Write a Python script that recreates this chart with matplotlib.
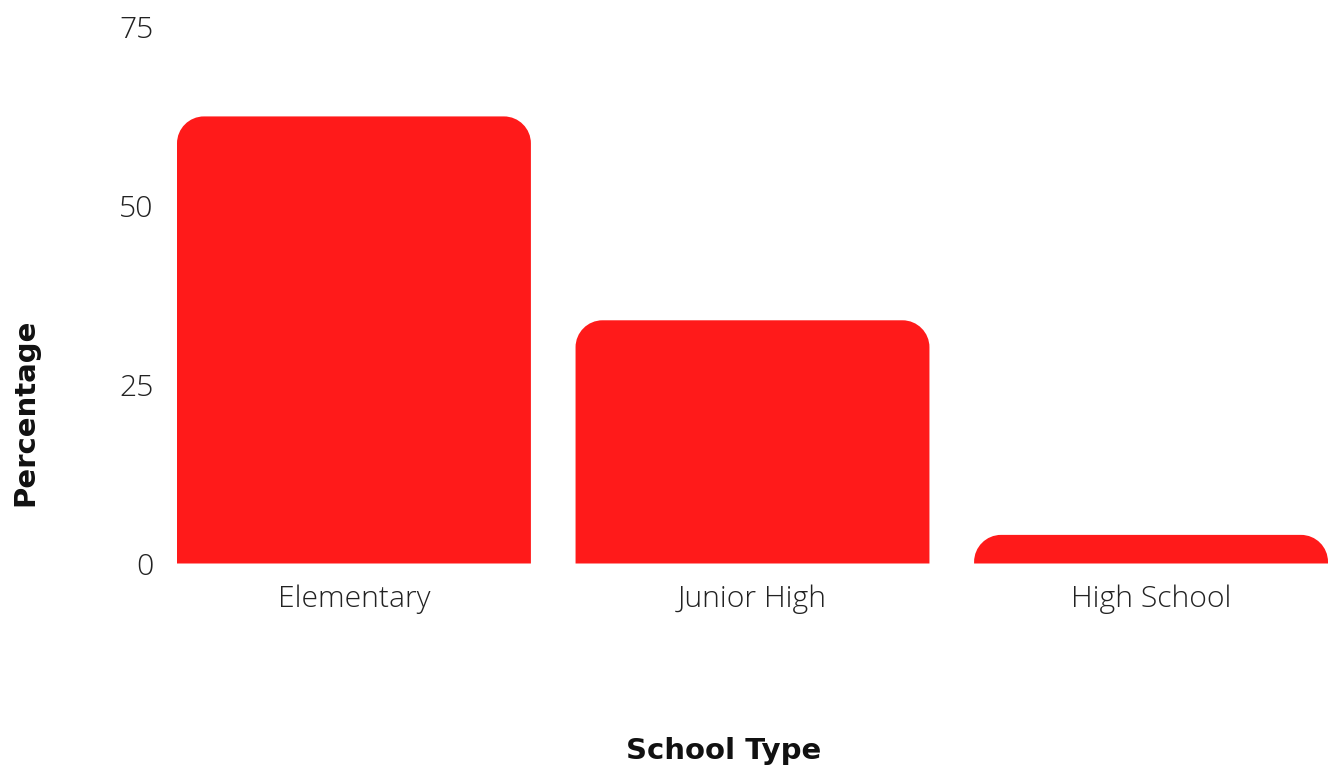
import matplotlib
matplotlib.use('Agg')
import matplotlib.pyplot as plt
from matplotlib.path import Path
from matplotlib.patches import PathPatch

# Datos
categorias = ['Elementary', 'Junior High', 'High School']
porcentajes = [62.5, 34, 4]
ticks_y = [0, 25, 50, 75]

COLOR_BARRA = '#ff1a1a'
W, H = 1328, 767
RADIO_PX = 27


def barra_redondeada(x0, ancho, alto, rx, ry):
    """Path de una barra con las esquinas superiores redondeadas."""
    ry = min(ry, alto)
    k = 0.5523
    x1 = x0 + ancho
    verts = [
        (x0, 0), (x0, alto - ry),
        (x0, alto - ry + k * ry), (x0 + rx - k * rx, alto), (x0 + rx, alto),
        (x1 - rx, alto),
        (x1 - rx + k * rx, alto), (x1, alto - ry + k * ry), (x1, alto - ry),
        (x1, 0), (x0, 0),
    ]
    codes = [Path.MOVETO, Path.LINETO,
             Path.CURVE4, Path.CURVE4, Path.CURVE4,
             Path.LINETO,
             Path.CURVE4, Path.CURVE4, Path.CURVE4,
             Path.LINETO, Path.CLOSEPOLY]
    return Path(verts, codes)


fig = plt.figure(figsize=(W / 100, H / 100), dpi=100)
izq, der = 177, 1328
arriba, abajo = 27, 563.5
ax = fig.add_axes([izq / W, (H - abajo) / H, (der - izq) / W, (abajo - arriba) / H])

ancho_barra = 0.888
xs = list(range(len(categorias)))
barras = ax.bar(xs, porcentajes, width=ancho_barra, color=COLOR_BARRA)
ax.set_xlim(-ancho_barra / 2, len(categorias) - 1 + ancho_barra / 2)
ax.set_ylim(0, 75)

# conversion de radio en pixeles a unidades de datos
px_x = (der - izq) / (ax.get_xlim()[1] - ax.get_xlim()[0])
px_y = (abajo - arriba) / 75
for b in barras:
    path = barra_redondeada(b.get_x(), b.get_width(), b.get_height(),
                            RADIO_PX / px_x, RADIO_PX / px_y)
    ax.add_patch(PathPatch(path, facecolor=COLOR_BARRA, edgecolor='none',
                           clip_on=False))
    b.set_visible(False)

ax.set_xticks(xs)
ax.set_xticklabels(categorias)
ax.set_yticks(ticks_y)
for s in ax.spines.values():
    s.set_visible(False)
ax.tick_params(axis='both', length=0, labelsize=21.7, labelcolor='#222222')
ax.tick_params(axis='x', pad=15)
ax.tick_params(axis='y', pad=17)
for t in ax.get_xticklabels() + ax.get_yticklabels():
    t.set_fontfamily('Open Sans')
    t.set_fontweight('light')

fig.text(724 / W, (H - 751) / H, 'School Type', ha='center', va='center',
         fontsize=21, fontweight='bold', family='DejaVu Sans', color='#111111')
fig.text(25 / W, (H - 412) / H, 'Percentage', ha='center', va='center',
         rotation=90, fontsize=21, fontweight='bold', family='DejaVu Sans',
         color='#111111')

plt.savefig('out.png', dpi=100)
plt.close()
